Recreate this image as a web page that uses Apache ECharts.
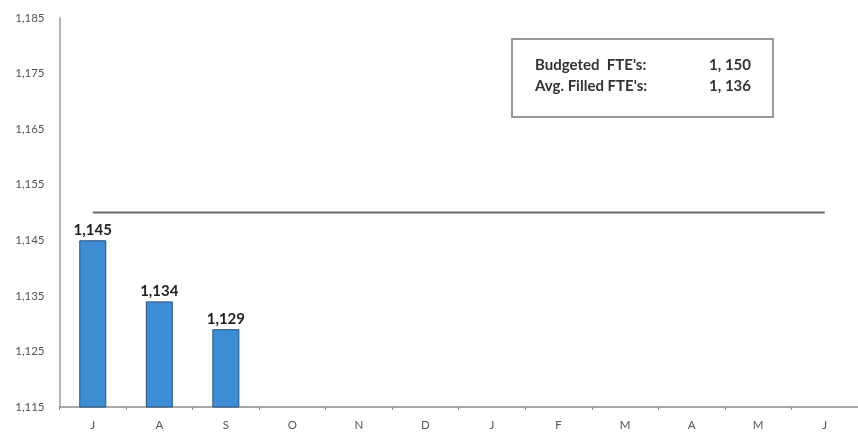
<!DOCTYPE html>
<html>
<head>
<meta charset="utf-8">
<script src="https://cdn.jsdelivr.net/npm/echarts@6/dist/echarts.min.js"></script>
<style>html,body{margin:0;padding:0;background:#fff;}#c{width:858px;height:438px;}</style>
</head>
<body>
<div id="c"></div>
<script>
const months = ['J','A','S','O','N','D','J','F','M','A','M','J'];
const filled = [1145, 1134, 1129, null, null, null, null, null, null, null, null, null];
const budget = [1150, 1150, 1150, 1150, 1150, 1150, 1150, 1150, 1150, 1150, 1150, 1150];
const yMin = 1115, yMax = 1185, yStep = 10;
const legendLabels = ["Budgeted  FTE's:", "Avg. Filled FTE's:"];
const legendValues = ["1, 150", "1, 136"];

const fmt = v => String(v).replace(/\B(?=(\d{3})+(?!\d))/g, ',');
const chart = echarts.init(document.getElementById('c'));
const font = 'Lato, "Open Sans", sans-serif';
chart.setOption({
  animation: false,
  grid: {left: 59.5, right: -5.5, top: 18, bottom: 31},
  xAxis: {
    type: 'category', data: months, boundaryGap: true,
    axisLine: {lineStyle: {color: '#8a8a8a', width: 1.5}},
    axisTick: {show: true, length: 3, lineStyle: {color: '#8a8a8a'}},
    axisLabel: {color: '#555', fontSize: 11.5, fontFamily: font, margin: 12}
  },
  yAxis: {
    type: 'value', min: yMin, max: yMax, interval: yStep,
    axisLine: {show: true, lineStyle: {color: '#9a9a9a', width: 1.5}},
    axisTick: {show: false},
    splitLine: {show: false},
    axisLabel: {color: '#555', fontSize: 11.5, fontFamily: font, margin: 15, formatter: fmt}
  },
  series: [
    {
      type: 'bar', data: filled, barWidth: 27,
      itemStyle: {color: '#3d8ed5', borderColor: '#27507a', borderWidth: 1},
      label: {show: true, position: 'top', distance: 3, color: '#222', fontWeight: 'bold', fontSize: 15, fontFamily: font, formatter: p => fmt(p.value)}
    },
    {
      type: 'line', data: budget, symbol: 'none',
      lineStyle: {color: '#6a6a6a', width: 1.8}
    }
  ],
  graphic: [
    {type: 'rect', shape: {x: 512, y: 39, width: 261, height: 78}, style: {fill: '#fff', stroke: '#777', lineWidth: 1.5}},
    {type: 'text', left: 535, top: 58, style: {text: legendLabels[0], font: 'bold 15px ' + font, fill: '#333'}},
    {type: 'text', left: 535, top: 79, style: {text: legendLabels[1], font: 'bold 15px ' + font, fill: '#333'}},
    {type: 'text', right: 858 - 751, top: 58, style: {text: legendValues[0], font: 'bold 15px ' + font, fill: '#333'}},
    {type: 'text', right: 858 - 751, top: 79, style: {text: legendValues[1], font: 'bold 15px ' + font, fill: '#333'}}
  ]
});
</script>
</body>
</html>
